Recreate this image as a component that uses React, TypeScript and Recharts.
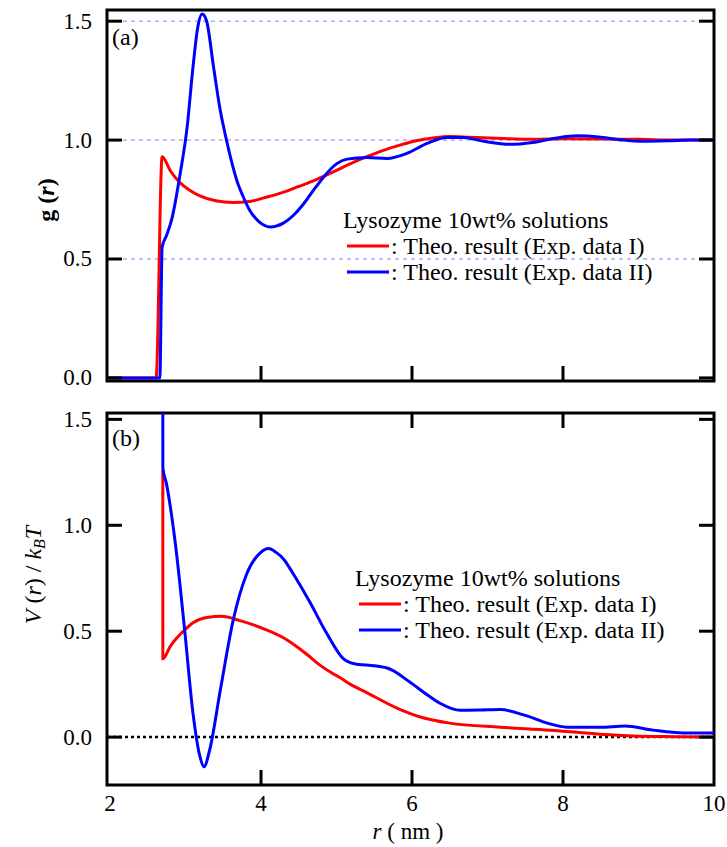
import { LineChart, Line, XAxis, YAxis, ReferenceLine, ReferenceArea } from 'recharts';

// g(r), panel (a)
const gExp1: [number, number][] = [
  [1.96, 0], [2.3, 0], [2.61, 0], [2.69, 0.93], [2.8, 0.87], [2.93, 0.82], [3.05, 0.79],
  [3.19, 0.765], [3.4, 0.745], [3.63, 0.738], [3.85, 0.742], [4.05, 0.758], [4.29, 0.78],
  [4.5, 0.805], [4.74, 0.835], [4.95, 0.865], [5.18, 0.9], [5.4, 0.93], [5.62, 0.957],
  [5.85, 0.98], [6.07, 0.998], [6.3, 1.01], [6.5, 1.015], [6.77, 1.012], [7.2, 1.007],
  [7.6, 1.004], [8.0, 1.006], [8.5, 1.005], [9.0, 1.003], [9.5, 1.0], [10, 1.0],
];
const gExp2: [number, number][] = [
  [1.96, 0], [2.66, 0], [2.69, 0.55], [2.75, 0.6], [2.82, 0.67], [2.93, 0.86], [3.02, 1.05],
  [3.1, 1.31], [3.16, 1.47], [3.22, 1.53], [3.28, 1.5], [3.37, 1.31], [3.46, 1.125],
  [3.55, 0.99], [3.63, 0.885], [3.69, 0.82], [3.76, 0.765], [3.85, 0.705], [3.98, 0.655],
  [4.12, 0.635], [4.29, 0.65], [4.45, 0.69], [4.56, 0.73], [4.72, 0.8], [4.87, 0.86],
  [5.0, 0.9], [5.14, 0.92], [5.4, 0.927], [5.67, 0.923], [5.93, 0.944], [6.2, 0.986],
  [6.46, 1.011], [6.68, 1.011], [6.95, 0.995], [7.3, 0.982], [7.6, 0.99], [7.9, 1.008],
  [8.19, 1.018], [8.5, 1.012], [8.8, 1.0], [9.02, 0.995], [9.4, 0.997], [9.7, 1.0], [10, 1.0],
];

// V(r)/kBT, panel (b)
const vExp1: [number, number][] = [
  [2.699, 1.26], [2.7, 0.37], [2.8, 0.43], [2.89, 0.47], [3.0, 0.51], [3.1, 0.54],
  [3.28, 0.565], [3.48, 0.57], [3.72, 0.55], [3.9, 0.53], [4.08, 0.505], [4.34, 0.46],
  [4.52, 0.415], [4.61, 0.39], [4.78, 0.34], [4.95, 0.3], [5.05, 0.28], [5.18, 0.25],
  [5.4, 0.21], [5.8, 0.137], [6.11, 0.095], [6.5, 0.066], [7.17, 0.047], [7.83, 0.033],
  [8.49, 0.014], [8.93, 0.005], [9.5, 0.002], [10, 0],
];
const vExp2: [number, number][] = [
  [2.699, 1.7], [2.7, 1.27], [2.745, 1.2], [2.87, 0.9], [2.99, 0.5], [3.1, 0.11],
  [3.19, -0.09], [3.245, -0.14], [3.32, -0.06], [3.46, 0.22], [3.63, 0.55], [3.81, 0.77],
  [3.99, 0.87], [4.1, 0.89], [4.2, 0.872], [4.3, 0.84], [4.42, 0.775], [4.53, 0.71],
  [4.65, 0.635], [4.87, 0.49], [5.09, 0.37], [5.25, 0.345], [5.4, 0.34], [5.68, 0.325],
  [5.97, 0.26], [6.2, 0.2], [6.37, 0.16], [6.64, 0.127], [6.9, 0.128], [7.17, 0.13],
  [7.52, 0.1], [7.8, 0.065], [8.05, 0.047], [8.49, 0.047], [8.82, 0.052], [9.19, 0.033],
  [9.59, 0.02], [10, 0.02],
];

const xTicks = [2, 4, 6, 8, 10];
const yTicks = [0, 0.5, 1.0, 1.5];
const gGrid = [0.5, 1.0, 1.5];
const legendTitle = 'Lysozyme 10wt% solutions';
const legendNames = [': Theo. result (Exp. data I)', ': Theo. result (Exp. data II)'];

const RED = '#ff0000';
const BLUE = '#0000ff';
const FONT = '"Liberation Serif", "Times New Roman", serif';

const X_DOMAIN: [number, number] = [1.96, 10];
const TOP_Y: [number, number] = [-0.013, 1.547];
const BOT_Y: [number, number] = [-0.226, 1.53];

const PLOT_W = 607;
const TOP_H = 371;
const BOT_H = 372;

const toRows = (pts: [number, number][]) => pts.map(([r, v]) => ({ r, v }));

function makeYTick(plotW: number) {
  return (props: any) => {
    const { x, y, payload } = props;
    return (
      <g>
        <line x1={x} x2={x + 15} y1={y} y2={y} stroke="#000" strokeWidth={3} />
        <line x1={x + plotW} x2={x + plotW - 15} y1={y} y2={y} stroke="#000" strokeWidth={3} />
        <text x={x - 15} y={y} textAnchor="end" dominantBaseline="central"
          style={{ fontFamily: FONT }} fontSize={23} fill="#000">
          {Number(payload.value).toFixed(1)}
        </text>
      </g>
    );
  };
}

function makeXTick(plotH: number, showLabels: boolean, topTicks: boolean) {
  return (props: any) => {
    const { x, y, payload } = props;
    const inner = payload.value !== 2 && payload.value !== 10;
    return (
      <g>
        {inner && <line x1={x} x2={x} y1={y} y2={y - 15} stroke="#000" strokeWidth={3} />}
        {inner && topTicks && (
          <line x1={x} x2={x} y1={y - plotH} y2={y - plotH + 15} stroke="#000" strokeWidth={3} />
        )}
        {showLabels && (
          <text x={x} y={y + 18} textAnchor="middle" dominantBaseline="central"
            style={{ fontFamily: FONT }} fontSize={23} fill="#000">
            {payload.value}
          </text>
        )}
      </g>
    );
  };
}

function Legend({ x, y }: { x: number; y: number }) {
  return (
    <g style={{ fontFamily: FONT }} fontSize={24} fill="#000">
      <text x={x} y={y} dominantBaseline="central">{legendTitle}</text>
      {legendNames.map((name, i) => (
        <g key={name}>
          <line x1={x + 4} x2={x + 46} y1={y + 26 * (i + 1)} y2={y + 26 * (i + 1)}
            stroke={i === 0 ? RED : BLUE} strokeWidth={3} />
          <text x={x + 48} y={y + 26 * (i + 1)} dominantBaseline="central">{name}</text>
        </g>
      ))}
    </g>
  );
}

export default function App() {
  return (
    <div style={{ position: 'absolute', left: 0, top: 0, width: 727, height: 847, background: '#fff' }}>
      <div style={{ position: 'absolute', left: 0, top: 0 }}>
        <LineChart width={727} height={400} margin={{ top: 10, right: 13, bottom: 0, left: 0 }}>
          <XAxis type="number" dataKey="r" domain={X_DOMAIN} ticks={xTicks} interval={0}
            allowDataOverflow height={19} tickSize={0} tickMargin={0} axisLine={false}
            tickLine={false} tick={makeXTick(TOP_H, false, false)} />
          <YAxis type="number" dataKey="v" domain={TOP_Y} ticks={yTicks} interval={0}
            allowDataOverflow width={107} tickSize={0} tickMargin={0} axisLine={false}
            tickLine={false} tick={makeYTick(PLOT_W)} />
          {gGrid.map((g) => (
            <ReferenceLine key={g} y={g} stroke="#8080ff" strokeWidth={1} strokeDasharray="4 4" />
          ))}
          <Line data={toRows(gExp1)} dataKey="v" type="monotone" stroke={RED} strokeWidth={3}
            dot={false} isAnimationActive={false} />
          <Line data={toRows(gExp2)} dataKey="v" type="monotone" stroke={BLUE} strokeWidth={3}
            dot={false} isAnimationActive={false} />
          <ReferenceArea x1={X_DOMAIN[0]} x2={X_DOMAIN[1]} y1={TOP_Y[0]} y2={TOP_Y[1]}
            fill="none" fillOpacity={0} stroke="#000" strokeWidth={3} />
        </LineChart>
      </div>
      <div style={{ position: 'absolute', left: 0, top: 400 }}>
        <LineChart width={727} height={447} margin={{ top: 13, right: 13, bottom: 0, left: 0 }}>
          <XAxis type="number" dataKey="r" domain={X_DOMAIN} ticks={xTicks} interval={0}
            allowDataOverflow height={62} tickSize={0} tickMargin={0} axisLine={false}
            tickLine={false} tick={makeXTick(BOT_H, true, true)} />
          <YAxis type="number" dataKey="v" domain={BOT_Y} ticks={yTicks} interval={0}
            allowDataOverflow width={107} tickSize={0} tickMargin={0} axisLine={false}
            tickLine={false} tick={makeYTick(PLOT_W)} />
          <ReferenceLine y={0} stroke="#000" strokeWidth={2.5} strokeDasharray="3 3" />
          <Line data={toRows(vExp1)} dataKey="v" type="monotone" stroke={RED} strokeWidth={3}
            dot={false} isAnimationActive={false} />
          <Line data={toRows(vExp2)} dataKey="v" type="monotone" stroke={BLUE} strokeWidth={3}
            dot={false} isAnimationActive={false} />
          <ReferenceArea x1={X_DOMAIN[0]} x2={X_DOMAIN[1]} y1={BOT_Y[0]} y2={BOT_Y[1]}
            fill="none" fillOpacity={0} stroke="#000" strokeWidth={3} />
        </LineChart>
      </div>
      <svg width={727} height={847} style={{ position: 'absolute', left: 0, top: 0, pointerEvents: 'none' }}>
        <g style={{ fontFamily: FONT }} fill="#000">
          <text x={112} y={37} fontSize={24} dominantBaseline="central">(a)</text>
          <text x={112} y={438} fontSize={24} dominantBaseline="central">(b)</text>
          <text transform="translate(46,200) rotate(-90)" textAnchor="middle"
            dominantBaseline="central" fontSize={24} fontWeight="bold">
            g (<tspan fontStyle="italic">r</tspan>)
          </text>
          <text transform="translate(33,575) rotate(-90)" textAnchor="middle"
            dominantBaseline="central" fontSize={24}>
            <tspan fontStyle="italic">V</tspan> (<tspan fontStyle="italic">r</tspan>) / <tspan fontStyle="italic">k</tspan>
            <tspan fontStyle="italic" fontSize={16} dy={6}>B</tspan>
            <tspan fontStyle="italic" dy={-6}>T</tspan>
          </text>
          <text x={408} y={831} textAnchor="middle" dominantBaseline="central" fontSize={23}>
            <tspan fontStyle="italic">r</tspan> ( nm )
          </text>
        </g>
        <Legend x={343} y={220} />
        <Legend x={355} y={578} />
      </svg>
    </div>
  );
}
